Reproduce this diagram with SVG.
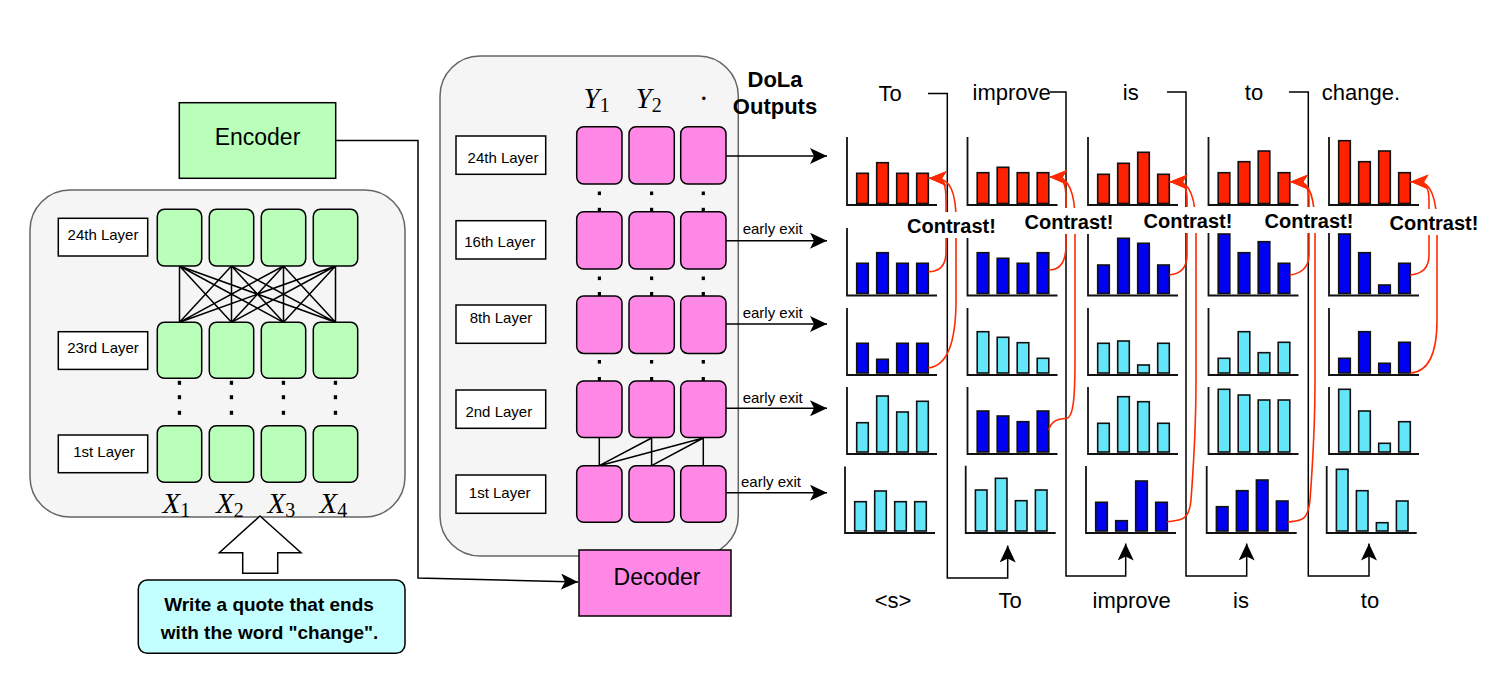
<svg xmlns="http://www.w3.org/2000/svg" width="1498" height="680" viewBox="0 0 1498 680">
<defs>
<style>
.t{font-family:"Liberation Sans",Arial,sans-serif;fill:#000}
.b{font-weight:bold}
.m{font-family:"Liberation Serif","Times New Roman",serif;font-style:italic;font-size:29px;fill:#000}
.sub{font-style:normal;font-size:20px}
.panel{fill:#f5f5f5;stroke:#666;stroke-width:1.5}
.lbl{fill:#fff;stroke:#000;stroke-width:1.5}
.gc{fill:#b9ffb9;stroke:#000;stroke-width:1.5}
.pc{fill:#ff88e6;stroke:#000;stroke-width:1.5}
.r{fill:#ff2200;stroke:#111;stroke-width:1.6}
.d{fill:#0000f2;stroke:#111;stroke-width:1.6}
.l{fill:#64e6fa;stroke:#111;stroke-width:1.6}
.ax{fill:none;stroke:#111;stroke-width:1.8}
.ln{fill:none;stroke:#000;stroke-width:1.5}
.rc{fill:none;stroke:#ff2a00;stroke-width:1.6}
.dot{fill:#000}
.wb{fill:#fff}
</style>
<marker id="arr" viewBox="0 0 17 16" refX="17" refY="8" markerWidth="17" markerHeight="16" markerUnits="userSpaceOnUse" orient="auto">
<path d="M0,0 L17,8 L0,16 L4,8 z" fill="#000"/>
</marker>
<marker id="rarr" viewBox="0 0 18 15" refX="18" refY="7.5" markerWidth="18" markerHeight="15" markerUnits="userSpaceOnUse" orient="auto">
<path d="M0,0 L18,7.5 L0,15 L4.5,7.5 z" fill="#ff2a00"/>
</marker>
</defs>

<!-- Encoder side -->
<g id="encoder-panel">
<rect class="panel" x="30" y="190" width="375" height="327" rx="40"/>
</g>
<g id="encoder">
<rect class="gc" x="179.3" y="102.7" width="156.4" height="75.6"/>
<text class="t" x="257.5" y="145" font-size="23" text-anchor="middle">Encoder</text>
</g>
<g id="enc-label-24">
<rect class="lbl" x="58.3" y="218.3" width="89.4" height="37.7"/>
<text class="t" x="103" y="240" font-size="15" text-anchor="middle">24th Layer</text>
</g>
<g id="enc-label-23">
<rect class="lbl" x="58.3" y="331.7" width="89.4" height="37.7"/>
<text class="t" x="103" y="353.3" font-size="15" text-anchor="middle">23rd Layer</text>
</g>
<g id="enc-label-1">
<rect class="lbl" x="58.3" y="435" width="89.4" height="37.7"/>
<text class="t" x="104" y="457.3" font-size="15" text-anchor="middle">1st Layer</text>
</g>
<g id="enc-links">
<path class="ln" d="M179.5,266 L179.5,322.3 M179.5,266 L231.5,322.3 M179.5,266 L283.5,322.3 M179.5,266 L335.5,322.3 M231.5,266 L179.5,322.3 M231.5,266 L231.5,322.3 M231.5,266 L283.5,322.3 M231.5,266 L335.5,322.3 M283.5,266 L179.5,322.3 M283.5,266 L231.5,322.3 M283.5,266 L283.5,322.3 M283.5,266 L335.5,322.3 M335.5,266 L179.5,322.3 M335.5,266 L231.5,322.3 M335.5,266 L283.5,322.3 M335.5,266 L335.5,322.3"/>
</g>
<g id="enc-cells">
<rect class="gc" x="157.3" y="209.3" width="44.4" height="56.7" rx="7"/>
<rect class="gc" x="209.3" y="209.3" width="44.4" height="56.7" rx="7"/>
<rect class="gc" x="261.3" y="209.3" width="44.4" height="56.7" rx="7"/>
<rect class="gc" x="313.3" y="209.3" width="44.4" height="56.7" rx="7"/>
<rect class="gc" x="157.3" y="322.3" width="44.4" height="56" rx="7"/>
<rect class="gc" x="209.3" y="322.3" width="44.4" height="56" rx="7"/>
<rect class="gc" x="261.3" y="322.3" width="44.4" height="56" rx="7"/>
<rect class="gc" x="313.3" y="322.3" width="44.4" height="56" rx="7"/>
<rect class="gc" x="157.3" y="425.7" width="44.4" height="56.6" rx="7"/>
<rect class="gc" x="209.3" y="425.7" width="44.4" height="56.6" rx="7"/>
<rect class="gc" x="261.3" y="425.7" width="44.4" height="56.6" rx="7"/>
<rect class="gc" x="313.3" y="425.7" width="44.4" height="56.6" rx="7"/>
</g>
<g id="enc-dots">
<rect class="dot" x="177.8" y="380.8" width="3.3" height="4"/><rect class="dot" x="177.8" y="395.2" width="3.3" height="4"/><rect class="dot" x="177.8" y="410.8" width="3.3" height="4"/>
<rect class="dot" x="229.8" y="380.8" width="3.3" height="4"/><rect class="dot" x="229.8" y="395.2" width="3.3" height="4"/><rect class="dot" x="229.8" y="410.8" width="3.3" height="4"/>
<rect class="dot" x="281.8" y="380.8" width="3.3" height="4"/><rect class="dot" x="281.8" y="395.2" width="3.3" height="4"/><rect class="dot" x="281.8" y="410.8" width="3.3" height="4"/>
<rect class="dot" x="333.8" y="380.8" width="3.3" height="4"/><rect class="dot" x="333.8" y="395.2" width="3.3" height="4"/><rect class="dot" x="333.8" y="410.8" width="3.3" height="4"/>
</g>
<g id="x-labels">
<text class="m" x="162.5" y="513.3">X<tspan class="sub" dy="4">1</tspan></text>
<text class="m" x="216" y="513.3">X<tspan class="sub" dy="4">2</tspan></text>
<text class="m" x="267.5" y="513.3">X<tspan class="sub" dy="4">3</tspan></text>
<text class="m" x="319.5" y="513.3">X<tspan class="sub" dy="4">4</tspan></text>
</g>
<g id="input-arrow">
<polygon points="260,516 301,552.7 277.7,552.7 277.7,573.3 242.7,573.3 242.7,552.7 219.3,552.7" fill="#fff" stroke="#000" stroke-width="1.5"/>
</g>
<g id="prompt">
<rect x="138.3" y="580" width="266.7" height="73.3" rx="9" fill="#c4ffff" stroke="#000" stroke-width="1.5"/>
<text class="t b" x="269" y="610.7" font-size="19" text-anchor="middle">Write a quote that ends</text>
<text class="t b" x="269.6" y="639.3" font-size="19" text-anchor="middle">with the word "change".</text>
</g>

<!-- Decoder side -->
<g id="decoder-panel">
<rect class="panel" x="440" y="56" width="298.3" height="500" rx="40"/>
</g>
<g id="dec-label-24">
<rect class="lbl" x="456" y="136" width="89.7" height="38.3"/>
<text class="t" x="503" y="163.3" font-size="15" text-anchor="middle">24th Layer</text>
</g>
<g id="dec-label-16">
<rect class="lbl" x="456" y="220.7" width="89.7" height="38.3"/>
<text class="t" x="499.7" y="247.3" font-size="15" text-anchor="middle">16th Layer</text>
</g>
<g id="dec-label-8">
<rect class="lbl" x="456" y="305" width="89.7" height="38.3"/>
<text class="t" x="501" y="322.7" font-size="15" text-anchor="middle">8th Layer</text>
</g>
<g id="dec-label-2">
<rect class="lbl" x="456" y="390" width="89.7" height="38.3"/>
<text class="t" x="498.8" y="416.7" font-size="15" text-anchor="middle">2nd Layer</text>
</g>
<g id="dec-label-1">
<rect class="lbl" x="456" y="475" width="89.7" height="38.3"/>
<text class="t" x="499.7" y="498.3" font-size="15" text-anchor="middle">1st Layer</text>
</g>
<g id="dec-links">
<path class="ln" d="M599.3,438 L599.3,465.7 M651.6,438 L651.6,465.7 M703.3,438 L703.3,465.7 M651.6,438 L599.3,465.7 M703.3,438 L599.3,465.7 M703.3,438 L651.6,465.7"/>
</g>
<g id="dec-cells">
<rect class="pc" x="576.7" y="126.7" width="45.3" height="57.4" rx="7"/>
<rect class="pc" x="629" y="126.7" width="45.3" height="57.4" rx="7"/>
<rect class="pc" x="680.7" y="126.7" width="45.3" height="57.4" rx="7"/>
<rect class="pc" x="576.7" y="211.7" width="45.3" height="57.4" rx="7"/>
<rect class="pc" x="629" y="211.7" width="45.3" height="57.4" rx="7"/>
<rect class="pc" x="680.7" y="211.7" width="45.3" height="57.4" rx="7"/>
<rect class="pc" x="576.7" y="296" width="45.3" height="57.4" rx="7"/>
<rect class="pc" x="629" y="296" width="45.3" height="57.4" rx="7"/>
<rect class="pc" x="680.7" y="296" width="45.3" height="57.4" rx="7"/>
<rect class="pc" x="576.7" y="381" width="45.3" height="56.6" rx="7"/>
<rect class="pc" x="629" y="381" width="45.3" height="56.6" rx="7"/>
<rect class="pc" x="680.7" y="381" width="45.3" height="56.6" rx="7"/>
<rect class="pc" x="576.7" y="465.7" width="45.3" height="56.6" rx="7"/>
<rect class="pc" x="629" y="465.7" width="45.3" height="56.6" rx="7"/>
<rect class="pc" x="680.7" y="465.7" width="45.3" height="56.6" rx="7"/>
</g>
<g id="dec-dots">
<rect class="dot" x="597.8" y="191.5" width="3.2" height="3.6"/><rect class="dot" x="597.8" y="207.8" width="3.2" height="4"/>
<rect class="dot" x="650" y="191.5" width="3.2" height="3.6"/><rect class="dot" x="650" y="207.8" width="3.2" height="4"/>
<rect class="dot" x="701.7" y="191.5" width="3.2" height="3.6"/><rect class="dot" x="701.7" y="207.8" width="3.2" height="4"/>
<rect class="dot" x="597.8" y="276.5" width="3.2" height="3.6"/><rect class="dot" x="597.8" y="292" width="3.2" height="4"/>
<rect class="dot" x="650" y="276.5" width="3.2" height="3.6"/><rect class="dot" x="650" y="292" width="3.2" height="4"/>
<rect class="dot" x="701.7" y="276.5" width="3.2" height="3.6"/><rect class="dot" x="701.7" y="292" width="3.2" height="4"/>
<rect class="dot" x="597.8" y="360" width="3.2" height="3.6"/><rect class="dot" x="597.8" y="377" width="3.2" height="4"/>
<rect class="dot" x="650" y="360" width="3.2" height="3.6"/><rect class="dot" x="650" y="377" width="3.2" height="4"/>
<rect class="dot" x="701.7" y="360" width="3.2" height="3.6"/><rect class="dot" x="701.7" y="377" width="3.2" height="4"/>
</g>
<g id="y-labels">
<text class="m" x="583.5" y="108.3">Y<tspan class="sub" dy="3.5">1</tspan></text>
<text class="m" x="635.5" y="108.3">Y<tspan class="sub" dy="3.5">2</tspan></text>
<text class="m" x="703.3" y="108.3" text-anchor="middle">·</text>
</g>
<g id="decoder">
<rect class="pc" x="579" y="550" width="152" height="66"/>
<text class="t" x="657" y="585" font-size="23" text-anchor="middle">Decoder</text>
</g>
<g id="dola-title">
<text class="t b" x="775" y="87.3" font-size="22" text-anchor="middle">DoLa</text>
<text class="t b" x="775" y="114" font-size="22" text-anchor="middle">Outputs</text>
</g>

<!-- Output distribution charts -->
<g id="charts">
<g id="chart-r1c1"><path class="ax" d="M847,137 V205 H937"/>
<rect class="r" x="856.7" y="173.3" width="11.6" height="30.2"/><rect class="r" x="876.7" y="162.7" width="11.6" height="40.8"/><rect class="r" x="896.7" y="173.3" width="11.6" height="30.2"/><rect class="r" x="916.7" y="173.3" width="11.6" height="30.2"/></g>
<g id="chart-r1c2"><path class="ax" d="M967.5,137 V205 H1057.5"/>
<rect class="r" x="977.2" y="172.7" width="11.6" height="30.8"/><rect class="r" x="997.2" y="167.3" width="11.6" height="36.2"/><rect class="r" x="1017.2" y="172.7" width="11.6" height="30.8"/><rect class="r" x="1037.2" y="172.7" width="11.6" height="30.8"/></g>
<g id="chart-r1c3"><path class="ax" d="M1088,137 V205 H1178"/>
<rect class="r" x="1097.7" y="174.3" width="11.6" height="29.2"/><rect class="r" x="1117.7" y="163.3" width="11.6" height="40.2"/><rect class="r" x="1137.7" y="152.3" width="11.6" height="51.2"/><rect class="r" x="1157.7" y="174.3" width="11.6" height="29.2"/></g>
<g id="chart-r1c4"><path class="ax" d="M1208.5,137 V205 H1298.5"/>
<rect class="r" x="1218.2" y="172.7" width="11.6" height="30.8"/><rect class="r" x="1238.2" y="161.7" width="11.6" height="41.8"/><rect class="r" x="1258.2" y="151" width="11.6" height="52.5"/><rect class="r" x="1278.2" y="172.7" width="11.6" height="30.8"/></g>
<g id="chart-r1c5"><path class="ax" d="M1329,137 V205 H1419"/>
<rect class="r" x="1338.7" y="140.7" width="11.6" height="62.8"/><rect class="r" x="1358.7" y="161.7" width="11.6" height="41.8"/><rect class="r" x="1378.7" y="151" width="11.6" height="52.5"/><rect class="r" x="1398.7" y="172.7" width="11.6" height="30.8"/></g>

<g id="chart-r2c1"><path class="ax" d="M847,228 V295.5 H937"/>
<rect class="d" x="856.7" y="263.3" width="11.6" height="30.2"/><rect class="d" x="876.7" y="252.7" width="11.6" height="40.8"/><rect class="d" x="896.7" y="263.3" width="11.6" height="30.2"/><rect class="d" x="916.7" y="263.3" width="11.6" height="30.2"/></g>
<g id="chart-r2c2"><path class="ax" d="M967.5,228 V295.5 H1057.5"/>
<rect class="d" x="977.2" y="252.7" width="11.6" height="40.8"/><rect class="d" x="997.2" y="258.3" width="11.6" height="35.2"/><rect class="d" x="1017.2" y="263.3" width="11.6" height="30.2"/><rect class="d" x="1037.2" y="252.7" width="11.6" height="40.8"/></g>
<g id="chart-r2c3"><path class="ax" d="M1088,228 V295.5 H1178"/>
<rect class="d" x="1097.7" y="265" width="11.6" height="28.5"/><rect class="d" x="1117.7" y="238.3" width="11.6" height="55.2"/><rect class="d" x="1137.7" y="243.3" width="11.6" height="50.2"/><rect class="d" x="1157.7" y="265" width="11.6" height="28.5"/></g>
<g id="chart-r2c4"><path class="ax" d="M1208.5,228 V295.5 H1298.5"/>
<rect class="d" x="1218.2" y="234" width="11.6" height="59.5"/><rect class="d" x="1238.2" y="252.7" width="11.6" height="40.8"/><rect class="d" x="1258.2" y="241.7" width="11.6" height="51.8"/><rect class="d" x="1278.2" y="263.3" width="11.6" height="30.2"/></g>
<g id="chart-r2c5"><path class="ax" d="M1329,228 V295.5 H1419"/>
<rect class="d" x="1338.7" y="234" width="11.6" height="59.5"/><rect class="d" x="1358.7" y="252.7" width="11.6" height="40.8"/><rect class="d" x="1378.7" y="285" width="11.6" height="8.5"/><rect class="d" x="1398.7" y="263.3" width="11.6" height="30.2"/></g>

<g id="chart-r3c1"><path class="ax" d="M847,308 V375 H937"/>
<rect class="d" x="856.7" y="343.3" width="11.6" height="29.7"/><rect class="d" x="876.7" y="359.3" width="11.6" height="13.7"/><rect class="d" x="896.7" y="343.3" width="11.6" height="29.7"/><rect class="d" x="916.7" y="343.3" width="11.6" height="29.7"/></g>
<g id="chart-r3c2"><path class="ax" d="M967.5,308 V375 H1057.5"/>
<rect class="l" x="977.2" y="331.7" width="11.6" height="41.3"/><rect class="l" x="997.2" y="337.3" width="11.6" height="35.7"/><rect class="l" x="1017.2" y="342.7" width="11.6" height="30.3"/><rect class="l" x="1037.2" y="358.3" width="11.6" height="14.7"/></g>
<g id="chart-r3c3"><path class="ax" d="M1088,308 V375 H1178"/>
<rect class="l" x="1097.7" y="343.3" width="11.6" height="29.7"/><rect class="l" x="1117.7" y="341" width="11.6" height="32"/><rect class="l" x="1137.7" y="365" width="11.6" height="8"/><rect class="l" x="1157.7" y="343.3" width="11.6" height="29.7"/></g>
<g id="chart-r3c4"><path class="ax" d="M1208.5,308 V375 H1298.5"/>
<rect class="l" x="1218.2" y="358.3" width="11.6" height="14.7"/><rect class="l" x="1238.2" y="331.7" width="11.6" height="41.3"/><rect class="l" x="1258.2" y="352.7" width="11.6" height="20.3"/><rect class="l" x="1278.2" y="342.3" width="11.6" height="30.7"/></g>
<g id="chart-r3c5"><path class="ax" d="M1329,308 V375 H1419"/>
<rect class="d" x="1338.7" y="358.3" width="11.6" height="14.7"/><rect class="d" x="1358.7" y="331.7" width="11.6" height="41.3"/><rect class="d" x="1378.7" y="363.3" width="11.6" height="9.7"/><rect class="d" x="1398.7" y="342.3" width="11.6" height="30.7"/></g>

<g id="chart-r4c1"><path class="ax" d="M847,387 V454 H937"/>
<rect class="l" x="856.7" y="422.7" width="11.6" height="29.3"/><rect class="l" x="876.7" y="396" width="11.6" height="56"/><rect class="l" x="896.7" y="412" width="11.6" height="40"/><rect class="l" x="916.7" y="401.3" width="11.6" height="50.7"/></g>
<g id="chart-r4c2"><path class="ax" d="M967.5,387 V454 H1057.5"/>
<rect class="d" x="977.2" y="411" width="11.6" height="41"/><rect class="d" x="997.2" y="416" width="11.6" height="36"/><rect class="d" x="1017.2" y="421.7" width="11.6" height="30.3"/><rect class="d" x="1037.2" y="411" width="11.6" height="41"/></g>
<g id="chart-r4c3"><path class="ax" d="M1088,387 V454 H1178"/>
<rect class="l" x="1097.7" y="423.3" width="11.6" height="28.7"/><rect class="l" x="1117.7" y="396.7" width="11.6" height="55.3"/><rect class="l" x="1137.7" y="401.7" width="11.6" height="50.3"/><rect class="l" x="1157.7" y="423.3" width="11.6" height="28.7"/></g>
<g id="chart-r4c4"><path class="ax" d="M1208.5,387 V454 H1298.5"/>
<rect class="l" x="1218.2" y="389.3" width="11.6" height="62.7"/><rect class="l" x="1238.2" y="395" width="11.6" height="57"/><rect class="l" x="1258.2" y="400" width="11.6" height="52"/><rect class="l" x="1278.2" y="400" width="11.6" height="52"/></g>
<g id="chart-r4c5"><path class="ax" d="M1329,387 V454 H1419"/>
<rect class="l" x="1338.7" y="389.3" width="11.6" height="62.7"/><rect class="l" x="1358.7" y="411" width="11.6" height="41"/><rect class="l" x="1378.7" y="443.3" width="11.6" height="8.7"/><rect class="l" x="1398.7" y="421.7" width="11.6" height="30.3"/></g>

<g id="chart-r5c1"><path class="ax" d="M845,466.5 V533 H935"/>
<rect class="l" x="854.7" y="501.7" width="11.6" height="29.3"/><rect class="l" x="874.7" y="491" width="11.6" height="40"/><rect class="l" x="894.7" y="501.7" width="11.6" height="29.3"/><rect class="l" x="914.7" y="501.7" width="11.6" height="29.3"/></g>
<g id="chart-r5c2"><path class="ax" d="M965.7,465.7 V533 H1055.7"/>
<rect class="l" x="975.4" y="490" width="11.6" height="41"/><rect class="l" x="995.4" y="478.3" width="11.6" height="52.7"/><rect class="l" x="1015.4" y="500.7" width="11.6" height="30.3"/><rect class="l" x="1035.4" y="490" width="11.6" height="41"/></g>
<g id="chart-r5c3"><path class="ax" d="M1086,466 V533 H1176"/>
<rect class="d" x="1095.7" y="502.3" width="11.6" height="28.7"/><rect class="d" x="1115.7" y="520.7" width="11.6" height="10.3"/><rect class="d" x="1135.7" y="481" width="11.6" height="50"/><rect class="d" x="1155.7" y="502.3" width="11.6" height="28.7"/></g>
<g id="chart-r5c4"><path class="ax" d="M1206.7,466 V533 H1296.7"/>
<rect class="d" x="1216.4" y="506.7" width="11.6" height="24.3"/><rect class="d" x="1236.4" y="490.7" width="11.6" height="40.3"/><rect class="d" x="1256.4" y="480" width="11.6" height="51"/><rect class="d" x="1276.4" y="501" width="11.6" height="30"/></g>
<g id="chart-r5c5"><path class="ax" d="M1326.7,466 V533 H1416.7"/>
<rect class="l" x="1336.4" y="469.3" width="11.6" height="61.7"/><rect class="l" x="1356.4" y="490.7" width="11.6" height="40.3"/><rect class="l" x="1376.4" y="522.7" width="11.6" height="8.3"/><rect class="l" x="1396.4" y="501" width="11.6" height="30"/></g>
</g>

<!-- Words -->
<g id="out-words">
<text class="t" x="890" y="101" font-size="22" text-anchor="middle">To</text>
<text class="t" x="1011.7" y="100" font-size="22" text-anchor="middle">improve</text>
<text class="t" x="1130.7" y="100" font-size="22" text-anchor="middle">is</text>
<text class="t" x="1254" y="100" font-size="22" text-anchor="middle">to</text>
<text class="t" x="1361" y="100" font-size="22" text-anchor="middle">change.</text>
</g>
<g id="in-words">
<text class="t" x="893" y="608" font-size="22" text-anchor="middle">&lt;s&gt;</text>
<text class="t" x="1010" y="608" font-size="22" text-anchor="middle">To</text>
<text class="t" x="1131.7" y="608" font-size="22" text-anchor="middle">improve</text>
<text class="t" x="1241" y="608" font-size="22" text-anchor="middle">is</text>
<text class="t" x="1370" y="608" font-size="22" text-anchor="middle">to</text>
</g>

<!-- Connectors -->
<g id="connectors">
<path class="ln" d="M335.7,140.5 H418 V578 L578,582" marker-end="url(#arr)"/>
<path class="ln" d="M726,156 H827" marker-end="url(#arr)"/>
<path class="ln" d="M726,240.7 H827" marker-end="url(#arr)"/>
<path class="ln" d="M726,324 H827" marker-end="url(#arr)"/>
<path class="ln" d="M726,408.3 H827" marker-end="url(#arr)"/>
<path class="ln" d="M726,492.7 H827" marker-end="url(#arr)"/>
<text class="t" x="742.7" y="234" font-size="15">early exit</text>
<text class="t" x="742.7" y="318.3" font-size="15">early exit</text>
<text class="t" x="742.7" y="402.7" font-size="15">early exit</text>
<text class="t" x="741" y="486.7" font-size="15">early exit</text>
<path class="ln" d="M928,93.5 H947.3 V578 H1007.7 V545.5" marker-end="url(#arr)"/>
<path class="ln" d="M1050,92 H1066 V576 H1125.7 V543.5" marker-end="url(#arr)"/>
<path class="ln" d="M1167,92 H1186 V576 H1246.7 V543.5" marker-end="url(#arr)"/>
<path class="ln" d="M1289,92 H1308.3 V576 H1369 V543.5" marker-end="url(#arr)"/>
<path class="rc" d="M928.3,271.7 C940,271.7 946,266 946,252 L946,200 C946,186 944,178.5 936,178.4 L928.6,178.3" marker-end="url(#rarr)"/>
<path class="rc" d="M928.3,368 C948,366 956,340 956,300 L956,220 C956,192 950,178.5 936,178.4 L928.6,178.3" marker-end="url(#rarr)"/>
<path class="rc" d="M1048.8,270 C1060,270 1066,262 1066,245 L1066,198 C1066,186 1064,177.2 1056,177.1 L1049.3,177" marker-end="url(#rarr)"/>
<path class="rc" d="M1048.8,430 C1051,421 1058,418.5 1066,418.5 C1073,418.5 1075,400 1075,360 L1075,220 C1075,192 1068,177.2 1056,177.1 L1049.3,177" marker-end="url(#rarr)"/>
<path class="rc" d="M1169.3,275 C1180,274 1187,268 1187,255 L1187,200 C1187,190 1185,181.8 1177,181.8 L1169.5,181.7" marker-end="url(#rarr)"/>
<path class="rc" d="M1167.3,521.7 C1180,520 1189,522 1191,500 C1194,460 1196,420 1196,380 L1196,230 C1196,198 1190,181.8 1177,181.8 L1169.5,181.7" marker-end="url(#rarr)"/>
<path class="rc" d="M1289.8,275 C1300,274 1309,268 1309,255 L1309,200 C1309,190 1307,181.8 1298,181.8 L1290,181.7" marker-end="url(#rarr)"/>
<path class="rc" d="M1288,522 C1300,520.5 1308,522 1310,500 C1313,460 1315,420 1315,380 L1315,230 C1315,198 1310,181.8 1298,181.8 L1290,181.7" marker-end="url(#rarr)"/>
<path class="rc" d="M1410.3,275 C1422,274 1429,268 1429,255 L1429,200 C1429,190 1427,181.8 1418,181.8 L1410.5,181.7" marker-end="url(#rarr)"/>
<path class="rc" d="M1410.3,373 C1428,372 1437,355 1437,320 L1437,230 C1437,198 1431,181.8 1418,181.8 L1410.5,181.7" marker-end="url(#rarr)"/>
</g>

<!-- Contrast labels -->
<g id="contrast-labels">
<rect class="wb" x="905" y="212" width="93" height="26"/>
<text class="t b" x="951.5" y="233.3" font-size="20" text-anchor="middle">Contrast!</text>
<rect class="wb" x="1022" y="208" width="94" height="26"/>
<text class="t b" x="1069" y="229.3" font-size="20" text-anchor="middle">Contrast!</text>
<rect class="wb" x="1141" y="207" width="94" height="26"/>
<text class="t b" x="1188" y="228.3" font-size="20" text-anchor="middle">Contrast!</text>
<rect class="wb" x="1262" y="207" width="94" height="26"/>
<text class="t b" x="1309" y="228.3" font-size="20" text-anchor="middle">Contrast!</text>
<rect class="wb" x="1387" y="209" width="94" height="26"/>
<text class="t b" x="1434" y="230" font-size="20" text-anchor="middle">Contrast!</text>
</g>
</svg>
